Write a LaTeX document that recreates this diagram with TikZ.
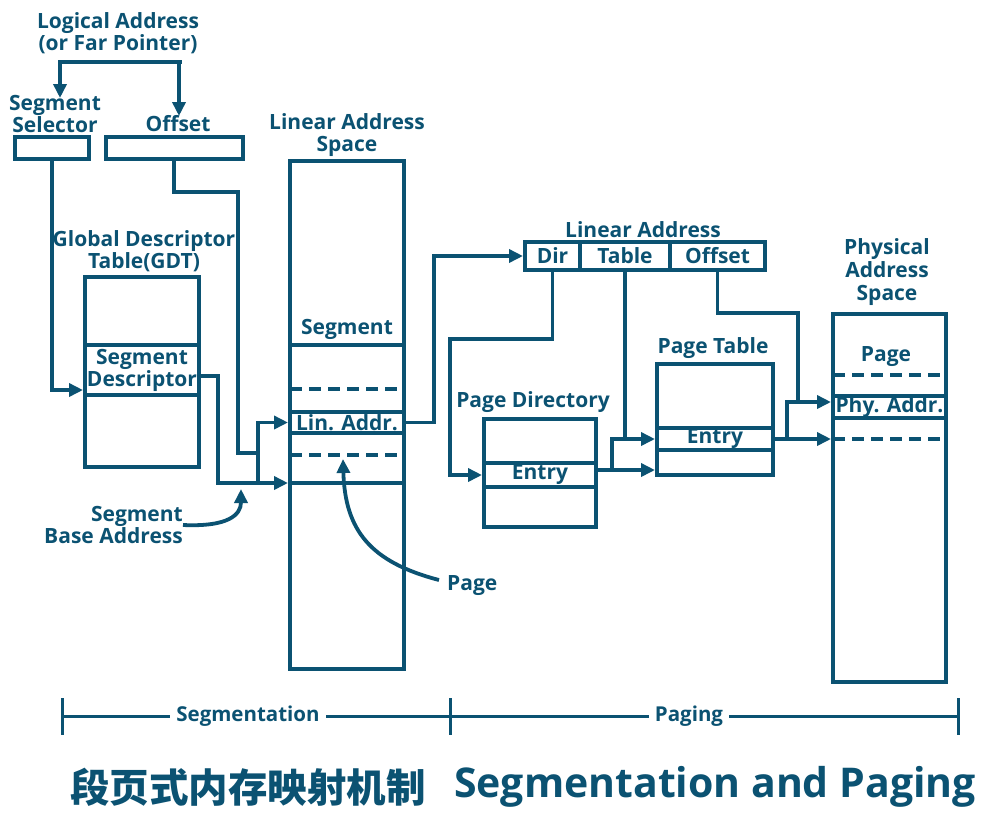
\documentclass[tikz,border=0pt]{standalone}
\usepackage{fontspec}
\setmainfont{Open Sans}
\newfontfamily\cjkfont{Noto Sans CJK SC}
\usetikzlibrary{arrows.meta,positioning}
\definecolor{ink}{HTML}{0B5272}
\tikzset{
  cell/.style={draw=ink, line width=4pt, rectangle, inner sep=0pt, align=center},
  tag/.style={inner sep=0pt, align=center, text=ink},
  wire/.style={draw=ink, line width=3.8pt},
  arr/.style={wire, -{Triangle[length=14pt,width=13pt]}},
  cut/.style={draw=ink, line width=4pt, dash pattern=on 12pt off 7pt},
  barlbl/.style={tag, fill=white, inner xsep=6pt, font=\fontsize{20.5}{21}\selectfont\bfseries},
}

\begin{document}
\begin{tikzpicture}[x=1pt, y=-1pt, color=ink, font=\fontsize{21}{22}\selectfont\bfseries]
\useasboundingbox (0,0) rectangle (984,820);

\node[tag] (logaddr) at (118,33) {Logical Address\\(or Far Pointer)};
\node[tag] (sellbl) at (55,114) {Segment\\Selector};
\node[tag] (offlbl) at (178,124) {Offset};
\node[cell, minimum width=74pt, minimum height=22pt] (sel) at (52,148) {};
\node[cell, minimum width=137pt, minimum height=22pt] (off) at (174,148) {};
\coordinate (split) at (120,62);
\coordinate (selin) at (60,98);
\coordinate (offin) at (179,116);
\draw[wire] (58,62) -- (182,62);
\draw[arr] (split) -| (selin);
\draw[arr] (split) -| (offin);

\node[tag] (gdtlbl) at (144,251) {Global Descriptor\\Table(GDT)};
\node[cell, minimum width=114pt, minimum height=190pt] (gdt) at (142,372) {};
\node[cell, minimum width=114pt, minimum height=50pt] (desc) at (142,370) {Segment\\Descriptor};

\node[tag] (laslbl) at (347,135) {Linear Address\\Space};
\node[cell, minimum width=114pt, minimum height=508pt] (las) at (347,415) {};
\node[tag] (seglbl) at (347,329) {Segment};
\draw[wire] (290,345) -- (404,345);
\draw[cut] (290,389) -- (404,389);
\node[cell, minimum width=114pt, minimum height=21pt] (lin) at (347,422.5) {Lin. Addr.};
\draw[cut] (290,455) -- (404,455);
\draw[wire] (290,483) -- (404,483);

\draw[arr] (sel.south) |- (gdt.west |- 0,390);
\draw[wire] (off.south) |- (238,192) |- (258,453);
\coordinate (base) at (258,483);
\draw[arr] ([yshift=-6pt]desc.east) -| (218,483) -- (las.west |- base);
\draw[arr] (base) |- (lin.west);

\node[tag, align=right, anchor=east] (sbalbl) at (183,525) {Segment\\Base Address};
\coordinate (sbatip) at (241,489);
\draw[arr] (sbalbl.east) .. controls (228,527) and (241,515) .. (sbatip);

\node[tag, anchor=west] (pagelbl) at (447,586) {Page};
\coordinate (pagetip) at (343,459);
\draw[arr] ([xshift=-8pt,yshift=6pt]pagelbl.west) .. controls (370,562) and (345,530) .. (pagetip);

\node[tag] (lalbl) at (643,230) {Linear Address};
\node[cell, minimum width=55pt, minimum height=28pt] (dir) at (552.5,256) {Dir};
\node[cell, minimum width=90pt, minimum height=28pt] (tab) at (625,256) {Table};
\node[cell, minimum width=95pt, minimum height=28pt] (ofs) at (717.5,256) {Offset};
\draw[arr] (lin.east) -- ++(28,0) |- (dir.west);

\node[tag] (pdlbl) at (533,402) {Page Directory};
\node[cell, minimum width=112pt, minimum height=108pt] (pd) at (540,473) {};
\node[cell, minimum width=112pt, minimum height=24pt] (pdent) at (540,475) {Entry};
\draw[arr] (dir.south) |- (450,339) |- (pdent.west);

\node[tag] (ptlbl) at (713,348) {Page Table};
\node[cell, minimum width=116pt, minimum height=111pt] (pt) at (715,419.5) {};
\node[cell, minimum width=116pt, minimum height=22pt] (ptent) at (715,439) {Entry};
\coordinate (pdout) at (612,470);
\draw[arr] ([yshift=5pt]pdent.east) -- (pt.west |- pdout);
\draw[arr] (pdout) |- (ptent.west);
\draw[wire] (tab.south) -- (tab.south |- ptent.west);

\node[tag] (paslbl) at (887,272) {Physical\\[1pt]Address\\[1pt]Space};
\node[cell, minimum width=113pt, minimum height=368pt] (pas) at (889.5,498) {};
\node[tag] (pglbl) at (886,357) {Page};
\draw[cut] (833,375) -- (948,375);
\node[cell, minimum width=113pt, minimum height=22pt] (phy) at (889.5,407) {Phy. Addr.};
\draw[cut] (833,439) -- (948,439);
\coordinate (phj) at (787,439);
\draw[arr] (ptent.east) -- (pas.west |- ptent.east);
\draw[arr] (phj) |- ([yshift=5pt]phy.west);
\draw[wire] (ofs.south) |- (798,313) -- (798,402);

\coordinate (barL) at (62,716);
\coordinate (barM) at (450,716);
\coordinate (barR) at (958,716);
\draw[wire, line width=3pt] (barL) -- (barR);
\foreach \t in {barL,barM,barR}
  \draw[wire, line width=3pt] ([yshift=18pt]\t) -- ([yshift=-19pt]\t);
\node[barlbl] (seglab) at (248,716) {Segmentation};
\node[barlbl] (paglab) at (689,716) {Paging};

\node[tag, font=\cjkfont\fontsize{39.5}{40}\selectfont\bfseries] (zhtitle) at (248,787) {段页式内存映射机制};
\node[tag, font=\fontsize{41}{42}\selectfont\bfseries] (entitle) at (715,787) {Segmentation and Paging};
\end{tikzpicture}
\end{document}
